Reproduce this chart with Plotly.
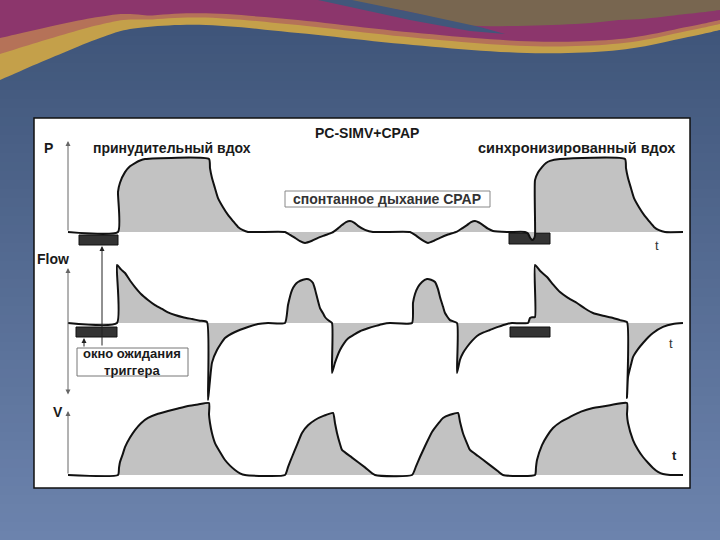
import numpy as np
import plotly.graph_objects as go

W, H = 720, 540

# ---------------- data ----------------
# time (s), pressure (cmH2O)
t_pressure = [0.00, 0.50, 0.50, 0.52, 0.57, 0.62, 0.67, 0.72, 0.77, 1.41, 1.42, 1.44, 1.47, 1.50, 1.55, 1.60, 1.65, 1.70, 1.75, 1.80,
              2.17, 2.22, 2.27, 2.32, 2.37, 2.44, 2.50, 2.57, 2.64, 2.70, 2.74, 2.78, 2.82, 2.86, 2.90, 2.97, 3.05,
              3.42, 3.47, 3.51, 3.56, 3.60, 3.66, 3.72, 3.80, 3.89, 3.94, 3.99, 4.03, 4.07, 4.11, 4.15, 4.20, 4.25, 4.39,
              4.57, 4.60, 4.62, 4.64, 4.66, 4.67, 4.67, 4.70, 4.74, 4.78, 4.82, 4.92, 5.57, 5.58, 5.60, 5.63, 5.66, 5.71,
              5.76, 5.81, 5.86, 5.91, 5.97, 6.15]
pressure = [0, 0, 11, 13.5, 16.4, 18, 18.9, 19.6, 20, 20, 17.5, 14.8, 12, 9.3, 6.8, 4.7, 3, 1.4, 0.5, 0,
            0, -0.8, -1.6, -2.5, -3.0, -2.4, -1.6, -0.9, -0.2, 1.0, 1.9, 2.7, 3.0, 2.6, 1.7, 0.6, 0,
            0, -0.8, -1.6, -2.5, -3.0, -2.4, -1.6, -0.7, 0.1, 1.0, 1.9, 2.7, 3.0, 2.6, 1.9, 0.9, 0.3, 0,
            0, -0.4, -1.5, -2.2, -1.8, -1.0, 14.2, 16.3, 17.8, 18.9, 19.5, 20, 20, 17.5, 14.8, 12, 9.3, 6.8,
            4.7, 3, 1.4, 0.5, 0, 0]

# time (s), flow (L/min)
t_flow = [0.00, 0.49, 0.49, 0.53, 0.57, 0.62, 0.67, 0.73, 0.80, 0.87, 0.94, 1.00, 1.07, 1.15, 1.24, 1.32, 1.39,
          1.40, 1.41, 1.42, 1.44, 1.49, 1.57, 1.67, 1.80, 1.90, 2.00,
          2.17, 2.20, 2.24, 2.27, 2.30, 2.35, 2.39, 2.42, 2.45, 2.47, 2.49, 2.52, 2.55, 2.57, 2.60, 2.64,
          2.64, 2.67, 2.72, 2.76, 2.80, 2.86, 2.92, 3.00, 3.08, 3.15, 3.22,
          3.44, 3.45, 3.47, 3.50, 3.54, 3.59, 3.63, 3.67, 3.70, 3.72, 3.75, 3.77, 3.82, 3.89,
          3.89, 3.92, 3.95, 3.99, 4.04, 4.09, 4.15, 4.22, 4.30, 4.39, 4.44,
          4.60, 4.62, 4.64, 4.67, 4.67, 4.72, 4.79, 4.85, 4.92, 5.00, 5.09, 5.17, 5.25, 5.35, 5.45, 5.52, 5.59,
          5.59, 5.60, 5.63, 5.65, 5.70, 5.75, 5.80, 5.85, 5.95, 6.05, 6.15]
flow = [0, 0, 60, 55.5, 51.7, 44, 37.2, 30, 23.8, 18.5, 14.5, 11, 8.3, 6, 4.1, 2.4, 1.0,
        -79.7, -70, -59, -41, -28, -15.5, -9.3, -4.1, -1, 0,
        0, 18.6, 34, 39.5, 42.4, 44.8, 45.5, 44.5, 41.4, 35, 26.9, 15.5, 10, 6.2, 3, 0,
        -51.7, -41, -27.9, -21, -16, -12, -8.5, -5.5, -3, -1, 0,
        0, 20.7, 30, 37.2, 42.5, 45.5, 44.8, 42.4, 35, 26.9, 17, 10.3, 3, 0,
        -51.7, -38, -31, -24.8, -18.5, -13.4, -10, -7.2, -4, -1, 0,
        0, 5.2, 6, 6.2, 60, 54, 47.6, 40, 32, 26, 20.7, 15, 10.3, 7.5, 5.2, 3, 1,
        -77.6, -55.9, -43, -35.2, -27, -20.7, -15, -10.3, -4.1, -1, 0]

# time (s), volume (mL)
t_volume = [0.00, 0.50, 0.51, 0.52, 0.55, 0.57, 0.62, 0.67, 0.73, 0.80, 0.90, 1.00, 1.10, 1.20, 1.30, 1.41,
            1.41, 1.42, 1.44, 1.47, 1.52, 1.57, 1.62, 1.67, 1.72, 1.77,
            2.17, 2.20, 2.24, 2.29, 2.34, 2.40, 2.47, 2.56, 2.65, 2.67, 2.69, 2.72, 2.74, 2.84, 2.97, 3.07,
            3.44, 3.48, 3.52, 3.58, 3.64, 3.70, 3.75, 3.82, 3.90, 3.92, 3.95, 3.99, 4.02, 4.10, 4.20, 4.30, 4.35,
            4.67, 4.68, 4.69, 4.74, 4.79, 4.85, 4.93, 5.02, 5.13, 5.25, 5.42, 5.59,
            5.59, 5.60, 5.65, 5.70, 5.75, 5.80, 5.85, 5.90, 5.95, 6.02, 6.15]
volume = [0, 0, 50, 90, 150, 194, 260, 312, 360, 396, 425, 444, 462, 479, 490, 500,
          420, 361, 290, 222, 160, 104, 65, 35, 12, 0,
          0, 55, 125, 210, 292, 345, 382, 412, 431, 360, 292, 215, 174, 121, 53, 0,
          0, 60, 125, 215, 299, 355, 396, 418, 431, 370, 290, 220, 174, 132, 79, 26, 0,
          0, 55, 104, 208, 270, 326, 370, 403, 440, 465, 485, 500,
          420, 361, 243, 175, 125, 85, 49, 22, 7, 0, 0]

# ---------------- layout helpers ----------------
def X(px):
    return px / W

def Y(py):
    return 1 - py / H

def axis_range(base_px, px_per_unit):
    return [-(H - base_px) / px_per_unit, base_px / px_per_unit]

def mix(c1, c2, f):
    a = [int(c1[i:i + 2], 16) for i in (1, 3, 5)]
    b = [int(c2[i:i + 2], 16) for i in (1, 3, 5)]
    return "#" + "".join(f"{round(a[k] + (b[k] - a[k]) * f):02x}" for k in range(3))

def catmull(pts, n=12):
    pts = [pts[0]] + list(pts) + [pts[-1]]
    out = []
    for i in range(1, len(pts) - 2):
        p0, p1, p2, p3 = [np.array(p, float) for p in pts[i - 1:i + 3]]
        for s in np.linspace(0, 1, n, endpoint=False):
            out.append(0.5 * ((2 * p1) + (-p0 + p2) * s + (2 * p0 - 5 * p1 + 4 * p2 - p3) * s * s
                              + (-p0 + 3 * p1 - 3 * p2 + p3) * s ** 3))
    out.append(np.array(pts[-2], float))
    return out

shapes = []
# slide background gradient
n_strips = 60
for i in range(n_strips):
    y0, y1 = i * H / n_strips, (i + 1) * H / n_strips + 1
    shapes.append(dict(type="rect", xref="paper", yref="paper", x0=0, x1=1, y0=Y(y1), y1=Y(y0),
                       fillcolor=mix("#3d5377", "#6c83ad", i / (n_strips - 1)), line_width=0, layer="below"))

wave_x = [0, 46, 100, 138, 206, 298, 413, 527, 619, 688, 720]
wave_y = [80, 60, 38, 28, 25, 33, 45, 53, 50, 37, 30]
curve = catmull(list(zip(wave_x, wave_y)))

def band_path(off_x, off_y, xmin=0, xmax=720, top_pts=None):
    pts = []
    for p in curve:
        if xmin <= p[0] <= xmax:
            pts.append((p[0], max(0.0, p[1] - np.interp(p[0], off_x, off_y))))
    if top_pts is None:
        top_pts = [(xmin, 0), (xmax, 0)]
    seq = list(top_pts) + pts[::-1]
    return "M " + " L ".join(f"{X(a):.4f},{Y(b):.4f}" for a, b in seq) + " Z"

deco = [
    (band_path([0, 720], [0, 0]), "#c4a04a"),
    (band_path([0, 150, 300, 720], [26, 7, 8, 6]), "#b57258"),
    (band_path([0, 150, 300, 500, 720], [42, 11, 13, 12, 10]), "#8c366c"),
    (band_path([400, 470, 540, 620, 720], [34, 24, 28, 30, 20], xmin=400, xmax=720,
               top_pts=[(335, 0), (720, 0)]), "#786650"),
]
for d, c in deco:
    shapes.append(dict(type="path", xref="paper", yref="paper", path=d, fillcolor=c, line_width=0, layer="below"))
stripe = [(318, 0), (352, 0), (420, 14), (480, 27), (505, 34), (470, 31), (410, 20)]
shapes.append(dict(type="path", xref="paper", yref="paper", layer="below", line_width=0, fillcolor="#41577b",
                   path="M " + " L ".join(f"{X(a):.4f},{Y(b):.4f}" for a, b in stripe) + " Z"))

# white chart panel
shapes.append(dict(type="rect", xref="paper", yref="paper", x0=X(34), x1=X(690), y0=Y(488), y1=Y(118),
                   fillcolor="white", line=dict(color="#111", width=1.5), layer="below"))

# trigger windows
for (x0, x1, y0, y1) in [(79, 118, 235, 245), (76, 117, 327, 337), (509, 550, 233, 244), (510, 550, 327, 337)]:
    shapes.append(dict(type="rect", xref="paper", yref="paper", x0=X(x0), x1=X(x1), y0=Y(y1), y1=Y(y0),
                       fillcolor="#333333", line=dict(color="#111", width=1), layer="below"))
# label boxes
shapes.append(dict(type="rect", xref="paper", yref="paper", x0=X(77), x1=X(188), y0=Y(376), y1=Y(348),
                   fillcolor="white", line=dict(color="#777", width=1), layer="above"))
shapes.append(dict(type="rect", xref="paper", yref="paper", x0=X(285), x1=X(490), y0=Y(207), y1=Y(191),
                   fillcolor="white", line=dict(color="#888", width=1), layer="above"))

FONT = "Liberation Sans, Arial, sans-serif"

def txt(s, px, py, size=14, bold=True, color="#1a1a1a"):
    return dict(text=f"<b>{s}</b>" if bold else s, x=X(px), y=Y(py), xref="paper", yref="paper",
                showarrow=False, xanchor="center", yanchor="middle",
                font=dict(family=FONT, size=size, color=color))

annotations = [
    txt("PC-SIMV+CPAP", 367, 133, 14),
    txt("принудительный вдох", 172, 148, 14),
    txt("синхронизированный вдох", 576, 148, 14.5),
    txt("спонтанное дыхание CPAP", 387, 199, 14, color="#333"),
    txt("окно ожидания<br>триггера", 132, 362, 13),
    txt("P", 48, 148, 14),
    txt("Flow", 53, 259, 14),
    txt("V", 58, 412, 14),
    txt("t", 657, 246, 13, bold=False, color="#333"),
    txt("t", 671, 343, 13, bold=False, color="#333"),
    txt("t", 674, 455, 13, bold=True),
]

def arrow(px, tip_py, tail_py, color="#666", both=False):
    return dict(x=X(px), y=Y(tip_py), xref="paper", yref="paper", ax=0, ay=tail_py - tip_py,
                axref="pixel", ayref="pixel", showarrow=True, arrowhead=2, arrowsize=1, arrowwidth=1,
                arrowcolor=color, text="", arrowside="end+start" if both else "end", startarrowhead=2)

annotations += [
    arrow(68, 141, 232),
    arrow(68, 268, 396, both=True),
    arrow(68, 411, 475),
    arrow(102, 246, 347, color="#222"),
    arrow(84, 338, 348, color="#222"),
]

fig = go.Figure()
style = dict(mode="lines", line=dict(color="#111", width=2, shape="spline", smoothing=0.5),
             fill="tozeroy", fillcolor="#c2c2c2", hoverinfo="skip", showlegend=False)
fig.add_trace(go.Scatter(x=t_pressure, y=pressure, yaxis="y", name="P", **style))
fig.add_trace(go.Scatter(x=t_flow, y=flow, yaxis="y2", name="Flow", **style))
fig.add_trace(go.Scatter(x=t_volume, y=volume, yaxis="y3", name="V", **style))

x0_px = 68
px_per_s = 100
fig.update_layout(
    width=W, height=H, margin=dict(l=0, r=0, t=0, b=0, pad=0),
    paper_bgcolor="#4a6088", plot_bgcolor="rgba(0,0,0,0)",
    xaxis=dict(range=[-x0_px / px_per_s, (W - x0_px) / px_per_s], visible=False, domain=[0, 1]),
    yaxis=dict(range=axis_range(232, 3.65), visible=False),
    yaxis2=dict(range=axis_range(323, 0.9667), visible=False, overlaying="y"),
    yaxis3=dict(range=axis_range(475, 0.144), visible=False, overlaying="y"),
    shapes=shapes, annotations=annotations, showlegend=False,
)
fig.write_html("out.html", config={"displayModeBar": False},
               post_script="document.body.style.margin='0';document.body.style.overflow='hidden';")
